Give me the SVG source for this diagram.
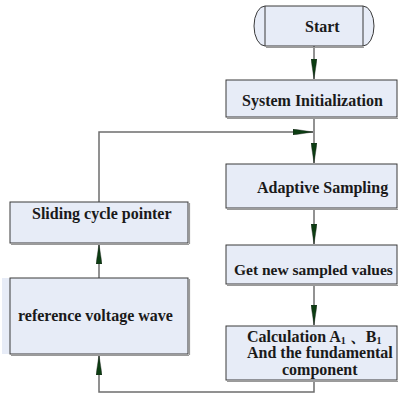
<svg xmlns="http://www.w3.org/2000/svg" width="398" height="403" viewBox="0 0 398 403">
<defs>
<style>
.box{fill:#e7ecf7;stroke:#3a3a3a;stroke-width:1}
.sh{fill:none;stroke:#9a9a9a;stroke-width:1.2}
text{font-family:"Liberation Serif","DejaVu Serif",serif;font-weight:bold;font-size:16px;fill:#1a1a1a}
.c{fill:none;stroke:#6e6e6e;stroke-width:1.5}
</style>
<marker id="ah" viewBox="0 0 20 6" refX="20" refY="3" markerWidth="20" markerHeight="6" markerUnits="userSpaceOnUse" orient="auto">
<path d="M0,0 L20,3 L0,6 Z" fill="#0c3d12" stroke="#222" stroke-width="0.4"/>
</marker>
</defs>
<rect width="398" height="403" fill="#fff"/>
<g id="connectors">
<path class="c" d="M314,46 V79" marker-end="url(#ah)"/>
<path class="c" d="M314,118 V163" marker-end="url(#ah)"/>
<path class="c" d="M99,202 V132 H313" marker-end="url(#ah)"/>
<path class="c" d="M314,209 V244" marker-end="url(#ah)"/>
<path class="c" d="M314,285 V325" marker-end="url(#ah)"/>
<path class="c" d="M314,381 V392 H99 V355" marker-end="url(#ah)"/>
<path class="c" d="M99,278 V244" marker-end="url(#ah)"/>
</g>
<g id="start">
<path class="sh" d="M266,47.5 H364"/>
<path class="box" d="M265,6 H363 A11,20 0 0 1 363,46 H265 A11,20 0 0 1 265,6 Z"/>
<path d="M265,6 V46 M363,6 V46" stroke="#3a3a3a" stroke-width="1"/>
<text x="305" y="31.5" font-family="Liberation Serif, DejaVu Serif, serif">Start</text>
</g>
<g id="system-init">
<path class="sh" d="M227,118.5 H398"/>
<rect class="box" x="226" y="80" width="171" height="37"/>
<text x="242" y="105.5" font-family="Liberation Serif, DejaVu Serif, serif">System Initialization</text>
</g>
<g id="adaptive-sampling">
<path class="sh" d="M227,209.5 H398"/>
<rect class="box" x="226" y="164" width="171" height="44"/>
<text x="257" y="193" font-family="Liberation Serif, DejaVu Serif, serif">Adaptive Sampling</text>
</g>
<g id="get-new-sampled">
<path class="sh" d="M227,285.5 H398"/>
<rect class="box" x="226" y="245" width="171" height="39"/>
<text x="234" y="275" font-size="15.5" style="font-size:15.5px" font-family="Liberation Serif, DejaVu Serif, serif">Get new sampled values</text>
</g>
<g id="calculation">
<path class="sh" d="M227,381.5 H398"/>
<rect class="box" x="226" y="326" width="171" height="54"/>
<text x="247" y="341.5" font-family="Liberation Serif, DejaVu Serif, serif">Calculation A<tspan font-size="10" dy="2">1</tspan><tspan dy="-2"> 、B</tspan><tspan font-size="10" dy="2">1</tspan></text>
<text x="247" y="358" font-family="Liberation Serif, DejaVu Serif, serif">And the fundamental</text>
<text x="282" y="375" font-family="Liberation Serif, DejaVu Serif, serif">component</text>
</g>
<g id="sliding-cycle-pointer">
<path class="sh" d="M11,244.5 H189 M189.5,203 V244"/>
<rect class="box" x="10" y="202" width="178" height="41"/>
<text x="32" y="219" font-family="Liberation Serif, DejaVu Serif, serif">Sliding cycle pointer</text>
</g>
<g id="reference-voltage-wave">
<rect x="2" y="278" width="8" height="76" fill="#e7ecf7"/>
<path class="sh" d="M11,355.5 H189 M189.5,279 V355"/>
<rect class="box" x="10" y="278" width="178" height="76"/>
<text x="18" y="320.5" font-family="Liberation Serif, DejaVu Serif, serif">reference voltage wave</text>
</g>
</svg>
